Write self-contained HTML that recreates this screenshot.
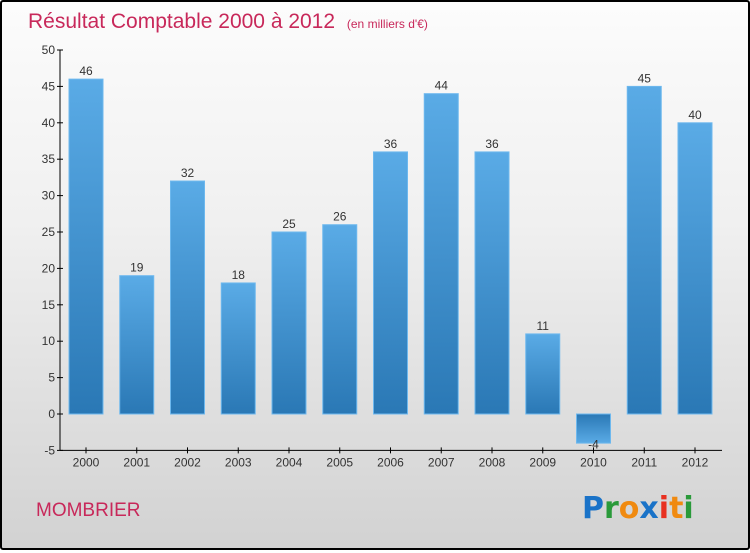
<!DOCTYPE html>
<html><head><meta charset="utf-8"><style>
html,body{margin:0;padding:0}
body{width:750px;height:550px;overflow:hidden;font-family:"Liberation Sans",sans-serif}
#wrap{position:absolute;left:0;top:0;width:746px;height:546px;border:2px solid #000;border-radius:3px;background:linear-gradient(#fcfcfc,#f0f0f0 40%,#d2d2d2)}
</style></head><body>
<div id="wrap">
<svg id="chart" width="746" height="546">
<defs>
<linearGradient id="gp" x1="0" y1="0" x2="0" y2="1"><stop offset="0" stop-color="#5aabe6"/><stop offset="1" stop-color="#2a78b5"/></linearGradient>
<linearGradient id="gn" x1="0" y1="0" x2="0" y2="1"><stop offset="0" stop-color="#2a78b5"/><stop offset="1" stop-color="#5aabe6"/></linearGradient>
</defs>
<text x="26" y="26" font-size="21" fill="#c8285a">Résultat Comptable 2000 à 2012 <tspan font-size="12" dx="6">(en milliers d'€)</tspan></text>
<text x="34" y="514" font-size="19" fill="#c8285a">MOMBRIER</text>
<g font-size="30" font-family="'DejaVu Sans',sans-serif" font-weight="bold">
<text x="580" y="516"><tspan fill="#1a73c8">P</tspan><tspan fill="#2a9a3a">r</tspan><tspan fill="#f08a10">o</tspan><tspan fill="#1a73c8">x</tspan><tspan fill="#e83020">i</tspan><tspan fill="#f08a10">t</tspan><tspan fill="#2a9a3a">i</tspan></text>
</g>
<g id="plot"></g>
</svg>
</div>
<script>
const categories=["2000","2001","2002","2003","2004","2005","2006","2007","2008","2009","2010","2011","2012"];
const values=[46,19,32,18,25,26,36,44,36,11,-4,45,40];
const yTicks=[-5,0,5,10,15,20,25,30,35,40,45,50];
const NS="http://www.w3.org/2000/svg";
const g=document.getElementById('plot');
const y=v=>412-v*7.28;
const x=i=>84+i*50.75;
function mk(t,a,p){const e=document.createElementNS(NS,t);for(const k in a)e.setAttribute(k,a[k]);(p||g).appendChild(e);return e;}
let ax=mk('line',{x1:58,y1:y(50),x2:58,y2:y(-5),stroke:'#000','stroke-width':1});


let bx=mk('line',{x1:58,y1:y(-5),x2:720,y2:y(-5),stroke:'#000','stroke-width':1});


yTicks.forEach(t=>{
 mk('line',{x1:55,y1:y(t),x2:61,y2:y(t),stroke:'#000'});
 const tx=mk('text',{x:53,y:y(t)+4,'text-anchor':'end','font-size':12,fill:'#333'});
 tx.textContent=t;
 
 
});
categories.forEach((c,i)=>{
 const v=values[i];
 const top=v>=0?y(v):y(0), h=Math.abs(y(v)-y(0));
 const r=mk('rect',{x:x(i)-17,y:top,width:34,height:h,fill:v>=0?'url(#gp)':'url(#gn)',stroke:'#6db8ee','stroke-width':1});
 
 
 mk('line',{x1:x(i),y1:y(-5)-3,x2:x(i),y2:y(-5)+3,stroke:'#000'});
 const xl=mk('text',{x:x(i),y:y(-5)+16,'text-anchor':'middle','font-size':12,fill:'#333'});
 xl.textContent=c;
 
 
 const vl=mk('text',{x:x(i),y:v>=0?y(v)-4:y(-5)-2,'text-anchor':'middle','font-size':12,fill:'#333'});
 vl.textContent=v;
 
 
});
</script>
</body></html>
